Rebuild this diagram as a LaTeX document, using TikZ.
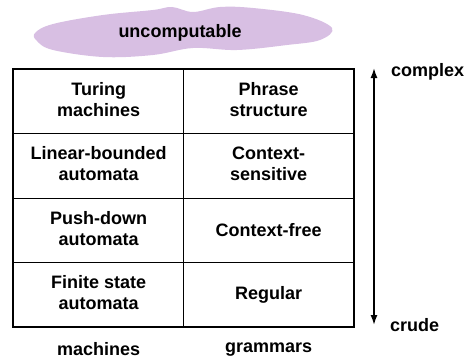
\documentclass[tikz,border=0pt]{standalone}
\usepackage{fontspec}
\setmainfont{Liberation Sans}
\usepackage{tikz}
\usetikzlibrary{arrows.meta, positioning, matrix}

\definecolor{cloudlilac}{RGB}{216,191,227}
\newcommand{\twoline}[2]{\begin{tabular}{@{}c@{}}#1\\#2\end{tabular}}

\begin{document}
\begin{tikzpicture}[x=1pt, y=-1pt,
    every node/.style={font=\fontsize{18}{21}\selectfont\bfseries},
    cell/.style={draw=black, line width=1pt, minimum width=170pt, minimum height=64.25pt, inner sep=0pt, anchor=center},
    caption/.style={inner sep=0pt}]
    \useasboundingbox (0,0) rectangle (468,361);
    % the cloud on top
    \fill[cloudlilac] plot[smooth cycle, tension=0.6] coordinates {
        (35,33) (53,24) (103,15) (153,10) (172,7) (193,12) (220,7) (253,8)
        (303,15) (332,28) (320,40) (287,45) (237,50) (193,48) (153,55)
        (103,57) (53,50) (37,41)};
    \node (unc) at (180,33) {uncomputable};
    % the table
    \matrix[matrix of nodes,
        nodes={cell},
        column sep=-1pt, row sep=-1pt, inner sep=0pt,
        anchor=north west,
        ampersand replacement=\&] (m) at (13,69) {
        \twoline{Turing}{machines} \& \twoline{Phrase}{structure} \\
        \twoline{Linear-bounded}{automata} \& \twoline{Context-}{sensitive} \\
        \twoline{Push-down}{automata} \& Context-free \\
        \twoline{Finite state}{automata} \& Regular \\
    };
    \draw[line width=2pt] (m.north west) rectangle (m.south east);
    \node[caption, below=15pt of m-4-1.south] (mach) {machines};
    \node[caption, below=15pt of m-4-2.south] (gram) {grammars};
    % scale arrow
    \coordinate (top) at (374,68);
    \coordinate (bot) at (374,325);
    \draw[line width=1.6pt, {Latex[length=10pt,width=7pt]}-{Latex[length=10pt,width=7pt]}] (bot) -- (top);
    \node[caption, anchor=west] (cplx) at (391,72) {complex};
    \node[caption, anchor=west] (crud) at (390,325) {crude};
\end{tikzpicture}
\end{document}
